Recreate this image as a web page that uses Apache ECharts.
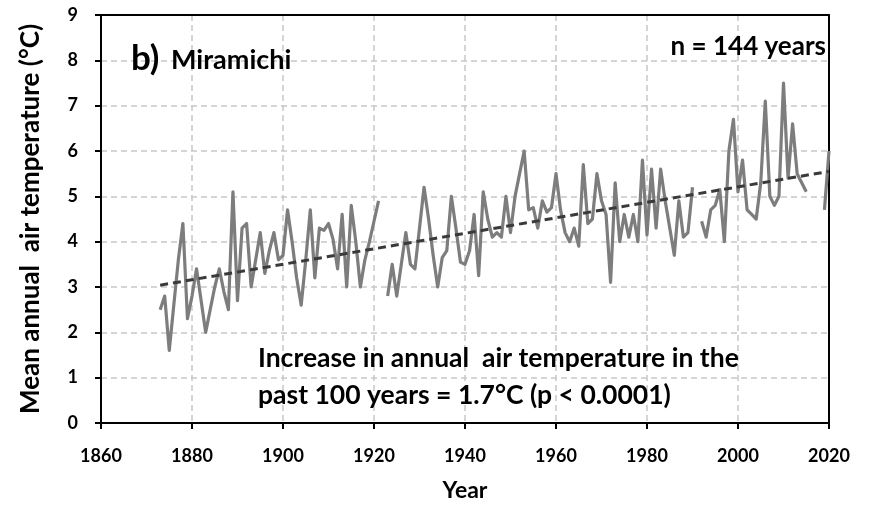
<!DOCTYPE html>
<html>
<head>
<meta charset="utf-8">
<script src="https://cdn.jsdelivr.net/npm/echarts@6/dist/echarts.min.js"></script>
<style>
  html, body { margin: 0; padding: 0; background: #fff; }
  #chart { width: 874px; height: 505px; }
</style>
</head>
<body>
<div id="chart"></div>
<script>
// Miramichi mean annual air temperature, 1873-2020 (null = no record that year)
const firstYear = 1873;
const meanTemp = [
  2.5, 2.8, 1.6, 2.6, 3.6, 4.4, 2.3, 2.8, 3.4, 2.7,      // 1873-1882
  2.0, 2.5, 3.0, 3.4, 2.9, 2.5, 5.1, 2.7, 4.3, 4.4,      // 1883-1892
  3.0, 3.6, 4.2, 3.3, 3.8, 4.2, 3.6, 3.7, 4.7, 4.0,      // 1893-1902
  3.2, 2.6, 3.6, 4.7, 3.2, 4.3, 4.25, 4.4, 4.05, 3.4,    // 1903-1912
  4.6, 3.0, 4.8, 4.0, 3.0, 3.6, 4.0, 4.45, 4.9, null,    // 1913-1922
  2.8, 3.5, 2.8, 3.5, 4.2, 3.5, 3.4, 4.3, 5.2, 4.5,      // 1923-1932
  3.7, 3.0, 3.65, 3.8, 5.0, 4.3, 3.55, 3.5, 3.8, 4.6,    // 1933-1942
  3.25, 5.1, 4.5, 4.1, 4.2, 4.1, 5.0, 4.2, 5.0, 5.5,     // 1943-1952
  6.0, 4.7, 4.75, 4.3, 4.9, 4.65, 4.75, 5.5, 4.7, 4.2,   // 1953-1962
  4.0, 4.3, 3.9, 5.7, 4.4, 4.5, 5.5, 4.9, 4.6, 3.1,      // 1963-1972
  5.3, 4.0, 4.6, 4.1, 4.6, 4.0, 5.8, 4.15, 5.6, 4.3,     // 1973-1982
  5.6, 4.9, 4.3, 3.7, 4.9, 4.1, 4.2, 5.2, null, 4.45,    // 1983-1992
  4.1, 4.7, 4.8, 5.15, 4.0, 6.0, 6.7, 5.1, 5.8, 4.7,     // 1993-2002
  4.6, 4.5, 5.3, 7.1, 5.0, 4.8, 5.0, 7.5, 5.4, 6.6,      // 2003-2012
  5.5, 5.3, 5.1, null, null, null, 4.7, 6.0              // 2013-2020
];

// Linear trend (about 1.7 °C per century), end points
const trendYears = [1873, 2020];
const trendValues = [3.04, 5.55];

// Axis ticks
const xTicks = { min: 1860, max: 2020, step: 20 };
const yTicks = { min: 0, max: 9, step: 1 };

const seriesData = meanTemp.map((v, i) => [firstYear + i, v]);
const trendData = trendYears.map((y, i) => [y, trendValues[i]]);

const FONT = 'Lato';
const chart = echarts.init(document.getElementById('chart'), null, { renderer: 'canvas' });

const gridLine = { show: true, lineStyle: { color: '#c8c8c8', width: 1.5, type: [6, 4] } };
const axisLine = { show: true, onZero: false, lineStyle: { color: '#000', width: 2 } };
const tick = { show: true, length: 6, lineStyle: { color: '#000', width: 2 } };
const labelFont = { fontFamily: FONT, fontWeight: 'bold', fontSize: 18, color: '#000' };
// plain frame edges on the top and right of the plot
const frameEdge = { show: true, onZero: false, lineStyle: { color: '#000', width: 2 } };
const textStyle = (size) => ({ fontFamily: FONT, fontWeight: 'bold', fontSize: size, fill: '#000' });

chart.setOption({
  animation: false,
  backgroundColor: '#fff',
  grid: { left: 101, right: 45, top: 15, bottom: 82, containLabel: false, outerBoundsMode: 'none' },
  xAxis: [
    {
      type: 'value',
      min: xTicks.min, max: xTicks.max, interval: xTicks.step,
      name: 'Year',
      nameLocation: 'middle',
      nameGap: 56,
      nameTextStyle: { fontFamily: FONT, fontWeight: 'bold', fontSize: 23, color: '#000' },
      axisLine: axisLine,
      axisTick: tick,
      axisLabel: Object.assign({ margin: 24, formatter: v => String(v) }, labelFont),
      splitLine: gridLine
    },
    {
      type: 'value', position: 'top',
      min: xTicks.min, max: xTicks.max, interval: xTicks.step,
      axisLine: frameEdge, axisTick: { show: false }, axisLabel: { show: false },
      splitLine: { show: false }
    }
  ],
  yAxis: [
    {
      type: 'value',
      min: yTicks.min, max: yTicks.max, interval: yTicks.step,
      name: 'Mean annual  air temperature (°C)',
      nameLocation: 'middle',
      nameGap: 57,
      nameRotate: 90,
      nameTextStyle: { fontFamily: FONT, fontWeight: 'bold', fontSize: 26, color: '#000' },
      axisLine: axisLine,
      axisTick: tick,
      axisLabel: Object.assign({ margin: 23 }, labelFont),
      splitLine: gridLine
    },
    {
      type: 'value', position: 'right',
      min: yTicks.min, max: yTicks.max, interval: yTicks.step,
      axisLine: frameEdge, axisTick: { show: false }, axisLabel: { show: false },
      splitLine: { show: false }
    }
  ],
  series: [
    {
      name: 'Mean annual air temperature',
      type: 'line',
      data: seriesData,
      showSymbol: false,
      connectNulls: false,
      lineStyle: { color: '#7d7d7d', width: 3.2, join: 'round' },
      z: 3
    },
    {
      name: 'Trend',
      type: 'line',
      data: trendData,
      showSymbol: false,
      lineStyle: { color: '#3a3a3a', width: 3, type: [8, 5] },
      z: 4
    }
  ],
  graphic: [
    { type: 'text', left: 131, top: 41, z: 100, style: Object.assign({ text: 'b)' }, textStyle(35)) },
    { type: 'text', left: 171, top: 47, z: 100, style: Object.assign({ text: 'Miramichi' }, textStyle(27)) },
    { type: 'text', right: 48, top: 34, z: 100,
      style: Object.assign({ text: 'n = 144 years', textAlign: 'right' }, textStyle(26)) },
    { type: 'text', left: 258, top: 345, z: 100,
      style: Object.assign({ text: 'Increase in annual  air temperature in the' }, textStyle(26.5)) },
    { type: 'text', left: 258, top: 382, z: 100,
      style: Object.assign({ text: 'past 100 years = 1.7°C (p < 0.0001)' }, textStyle(26.5)) }
  ]
});
</script>
</body>
</html>
